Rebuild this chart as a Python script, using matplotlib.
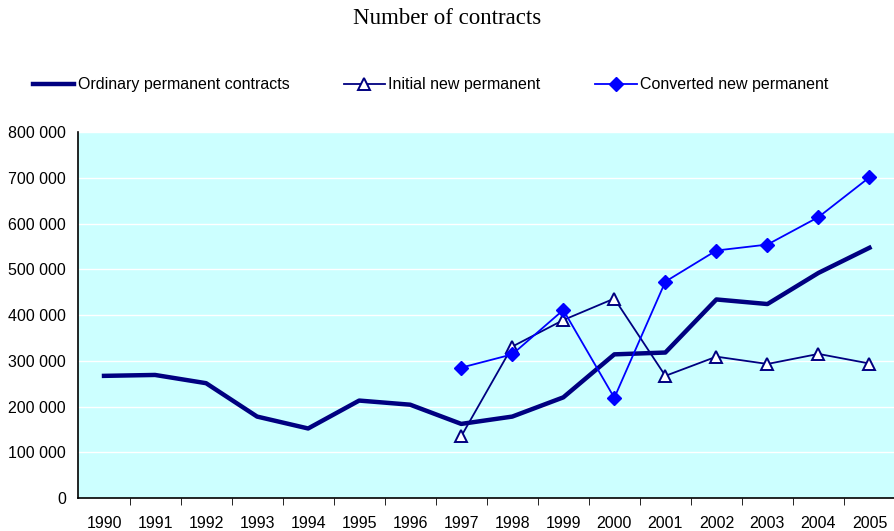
import numpy as np
import matplotlib
matplotlib.use('Agg')
import matplotlib.pyplot as plt
from matplotlib.ticker import FuncFormatter

# Datos: numero de contratos por anio
anios = ['1990', '1991', '1992', '1993', '1994', '1995', '1996', '1997',
         '1998', '1999', '2000', '2001', '2002', '2003', '2004', '2005']
ordinarios = [267000, 269000, 251000, 178000, 152000, 213000, 204000, 162000,
              178000, 220000, 314000, 318000, 434000, 424000, 492000, 547000]
anios_nuevos = anios[7:]
iniciales = [135000, 331000, 389000, 436000, 267000, 309000, 293000, 315000, 294000]
convertidos = [285000, 314000, 411000, 219000, 473000, 541000, 554000, 614000, 701000]

plt.rcParams['font.family'] = ['Liberation Sans', 'DejaVu Sans']

fig = plt.figure(figsize=(8.95, 5.31), dpi=100)
ax = fig.add_axes([0.0877, 0.0621, 0.9123, 0.6893])
ax.set_facecolor('#CCFFFF')

x = np.arange(len(anios))
xn = x[7:]

ax.plot(x, ordinarios, color='#000080', lw=3.2, solid_joinstyle='round',
        label='Ordinary permanent contracts', zorder=3)
ax.plot(xn, iniciales, color='#000080', lw=1.3, marker='^', markersize=8,
        markerfacecolor='white', markeredgecolor='#000080', markeredgewidth=1.4,
        label='Initial new permanent', zorder=4)
ax.plot(xn, convertidos, color='#0000FF', lw=1.3, marker='D', markersize=7,
        markerfacecolor='#0000FF', markeredgecolor='#0000FF',
        label='Converted new permanent', zorder=5)

# Ejes
ax.set_xlim(-0.5, len(anios) - 0.5)
ax.set_ylim(0, 800000)
ax.set_yticks(np.arange(0, 800001, 100000))
ax.yaxis.set_major_formatter(FuncFormatter(lambda v, p: '{:,.0f}'.format(v).replace(',', ' ')))
ax.set_xticks(x)
ax.set_xticklabels(anios)
ax.set_xticks(np.arange(0.5, len(anios) - 1, 1), minor=True)
ax.tick_params(axis='x', which='major', length=0, pad=13, labelsize=11.5)
ax.tick_params(axis='x', which='minor', length=5, direction='out', color='black')
ax.tick_params(axis='y', length=0, pad=9, labelsize=11.5)

ax.grid(axis='y', color='white', lw=1)
ax.set_axisbelow(True)
for s in ['top', 'right']:
    ax.spines[s].set_visible(False)
for s in ['left', 'bottom']:
    ax.spines[s].set_color('black')
    ax.spines[s].set_linewidth(1.2)

fig.text(0.5, 1 - 19 / 531, 'Number of contracts', ha='center', va='center',
         fontsize=16.5, family='Liberation Serif')

fig.legend(loc='center', bbox_to_anchor=(0.481, 0.84), ncol=3, frameon=False,
           fontsize=11.5, handlelength=2.6, handletextpad=0.2, columnspacing=3.4)

plt.savefig('out.png', dpi=100)
